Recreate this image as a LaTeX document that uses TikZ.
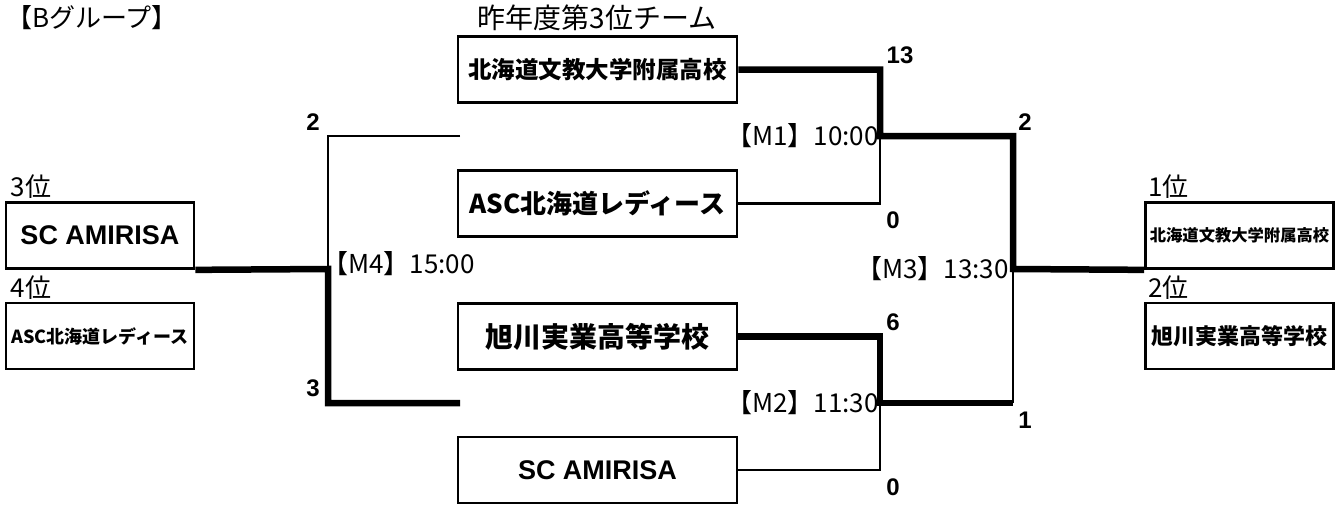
\documentclass[tikz,border=0pt]{standalone}
\usepackage{fontspec}
\setmainfont{Noto Sans CJK JP}
\newfontfamily\latinfont{Liberation Sans}
\usetikzlibrary{positioning}
\tikzset{team/.style={
		draw,
		line width=2.7pt,
		minimum width=279pt,
		minimum height=66pt,
		inner sep=0pt,
		font=\bfseries\fontsize{#1}{#1}\selectfont},
	team/.default=24pt,
	side/.style={minimum width=188pt},
	latin/.style={font=\latinfont\bfseries\fontsize{27pt}{27pt}\selectfont},
	win/.style={line width=6.5pt},
	lose/.style={line width=2.4pt},
	score/.style={inner sep=0pt, font=\latinfont\bfseries\fontsize{24pt}{24pt}\selectfont},
	match/.style={inner sep=0pt, font=\fontsize{26pt}{26pt}\selectfont},
	note/.style={inner sep=0pt, font=\fontsize{26pt}{26pt}\selectfont}}

\begin{document}
\begin{tikzpicture}[x=1pt,y=-1pt]
	\useasboundingbox (0,0) rectangle (1338,504);
	\node[note, anchor=west] (title) at (6,18) {【Bグループ】};
	\node[note, font=\fontsize{28pt}{28pt}\selectfont] (last) at (597,18) {昨年度第3位チーム};
	
	\node[team=23.5pt] (t1) at (597.5,69.5) {北海道文教大学附属高校};
	\node[team=26pt] (t2) at (597.5,203.5) {ASC北海道レディース};
	\node[team=28pt] (t3) at (597.5,336.5) {旭川実業高等学校};
	\node[team, latin] (t4) at (597.5,470) {SC AMIRISA};
	\node[team, side, latin] (l1) at (100,235.5) {SC AMIRISA};
	\node[team=18pt, side] (l2) at (100,336) {ASC北海道レディース};
	\node[team=16.3pt, side] (r1) at (1239.5,235.5) {北海道文教大学附属高校};
	\node[team=22pt, side] (r2) at (1239.5,336) {旭川実業高等学校};
	
	\node[note, above right=2pt and 6pt of l1.north west] (p3) {3位};
	\node[note, above right=2pt and 6pt of l2.north west] (p4) {4位};
	\node[note, above right=2pt and 4pt of r1.north west] (p1) {1位};
	\node[note, above right=2pt and 4pt of r2.north west] (p2) {2位};
	
	\coordinate (m1) at (880,136);
	\coordinate (m2) at (880,403);
	\coordinate (m3) at (1013,269);
	\coordinate (m4) at (328,269);
	\coordinate (e1) at (460,136);
	\coordinate (e2) at (460,403);
	
	\draw[win] (t1.east) -| (m1) -- (m1 -| m3) -- (m3) -- (r1.south west);
	\draw[lose] (t2.east) -| (m1);
	\draw[win] (t3.east) -| (m2) -- (m2 -| m3);
	\draw[lose] (t4.east) -| (m2);
	\draw[lose] (m2 -| m3) -- (m3);
	\draw[win] (e2) -| (m4) -- (l1.south east);
	\draw[lose] (e1) -| (m4);
	
	\node[match, anchor=east] (mt1) at (879,136) {【M1】10:00};
	\node[match, anchor=east] (mt2) at (879,403) {【M2】11:30};
	\node[match, anchor=east] (mt3) at (1009,269) {【M3】13:30};
	\node[match, anchor=west] (mt4) at (322,264) {【M4】15:00};
	
	\node[score] (s1a) at (900,55) {13};
	\node[score] (s1b) at (893,220) {0};
	\node[score] (s2a) at (893,322) {6};
	\node[score] (s2b) at (893,487) {0};
	\node[score] (s3a) at (1025,122) {2};
	\node[score] (s3b) at (1025,420) {1};
	\node[score] (s4a) at (313,122) {2};
	\node[score] (s4b) at (313,388) {3};
\end{tikzpicture}
\end{document}
